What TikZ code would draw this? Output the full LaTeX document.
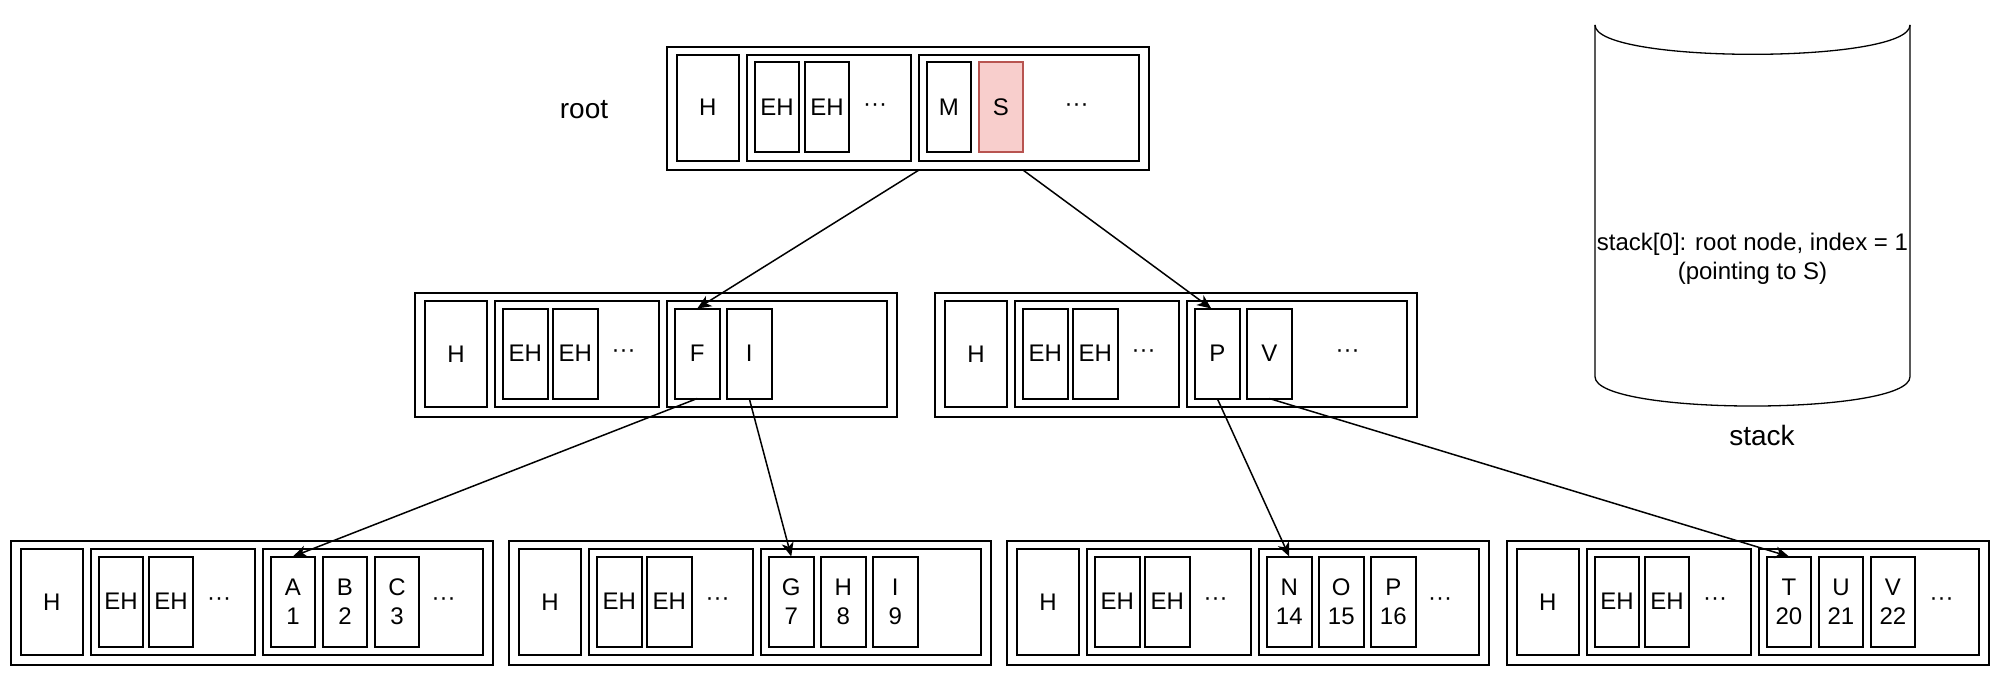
\documentclass[tikz,border=0pt]{standalone}
\usepackage{fontspec}
\setmainfont{Liberation Sans}
\usepackage{tikz}
\usetikzlibrary{arrows.meta,positioning}

\definecolor{keyfill}{HTML}{F8CECC}
\definecolor{keyline}{HTML}{B85450}

% one page: outer box, header, entry headers, keys
\newcommand{\btpage}[4]{%
  \begin{scope}[shift={(#2,#3)}]
    \node[page] (#1) at (0,0) {};
    \node[hdr] (#1-h) at (10,8) {H};
    \node[grp,minimum width=82pt] (#1-eg) at (80,8) {};
    \node[cell] (#1-e1) at (88,15.5) {EH};
    \node[cell] (#1-e2) at (138,15.5) {EH};
    \node[ellip] (#1-ed) at (208.5,60.5) {···};
    \node[grp,minimum width=110pt] (#1-kg) at (252,8) {};
    \foreach \k [count=\i] in {#4}
      \node[cell] (#1-k\i) at (208+52*\i,15.5) {\k};
  \end{scope}}

\begin{document}
\begin{tikzpicture}[x=0.5pt,y=-0.5pt]
\tikzstyle{every node}=[font=\fontsize{12}{14.4}\selectfont] %%
\tikzstyle{box}=[draw,line width=1pt,anchor=north west,inner sep=0,outer sep=0]
\tikzstyle{page}=[box,minimum width=241pt,minimum height=61.75pt]
\tikzstyle{hdr}=[box,minimum width=31pt,minimum height=53pt]
\tikzstyle{grp}=[box,minimum height=53pt]
\tikzstyle{cell}=[box,minimum width=22.25pt,minimum height=45pt,align=center]
\tikzstyle{hit}=[fill=keyfill,draw=keyline]
\tikzstyle{ellip}=[inner sep=0]
\tikzstyle{lbl}=[font=\fontsize{14}{16.8}\selectfont,anchor=base]
\tikzstyle{ptr}=[line width=.75pt,-{Stealth[length=7pt,width=6pt,inset=2pt]}]
\useasboundingbox (0,0) rectangle (2002,674);

\btpage{root}{666.7}{46.7}{M}
\node[cell,hit] (root-k2) at (978.7,62.2) {S};
\node[ellip] (root-kd) at (1076.7,107.2) {···};
\node[lbl] (rootlbl) at (584,118.3) {root};

\btpage{left}{415}{293}{F,I}
\btpage{right}{935}{293}{P,V}
\node[ellip] (right-kd) at (1347.7,353.5) {···};

\btpage{leafa}{10.7}{541}{{A\\1},{B\\2},{C\\3}}
\node[ellip] (leafa-kd) at (443.7,601.5) {···};
\btpage{leafg}{509}{541}{{G\\7},{H\\8},{I\\9}}
\btpage{leafn}{1007}{541}{{N\\14},{O\\15},{P\\16}}
\node[ellip] (leafn-kd) at (1440,601.5) {···};
\btpage{leaft}{1506.7}{541}{{T\\20},{U\\21},{V\\22}}
\node[ellip] (leaft-kd) at (1941.7,601.5) {···};

% stack
\draw[line width=.65pt] (1595,25) -- (1595,376.7)
  .. controls (1595,415.8) and (1910,415.8) .. (1910,376.7) -- (1910,25);
\draw[line width=.65pt] (1595,25) .. controls (1595,64.1) and (1910,64.1) .. (1910,25);
\node[align=center] (stacktxt) at (1752.5,259) {stack[0]: root node, index = 1\\(pointing to S)};
\node[lbl] (stacklbl) at (1762,445) {stack};

\coordinate (root-p0) at (root-kg.west |- root.south);
\coordinate (root-p2) at (root-k2.east |- root.south);
\draw[ptr] (root-p0) -- (left-k1.north);
\draw[ptr] (root-p2) -- ([xshift=-3pt]right-k1.north);
\draw[ptr] (left-k1.south) -- (leafa-k1.north);
\draw[ptr] (left-k2.south) -- (leafg-k1.north);
\draw[ptr] (right-k1.south) -- (leafn-k1.north);
\draw[ptr] (right-k2.south) -- (leaft-k1.north);
\end{tikzpicture}
\end{document}
